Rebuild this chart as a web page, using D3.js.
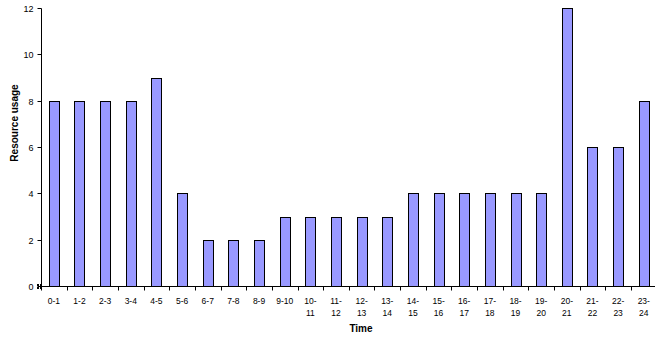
<!DOCTYPE html>
<html>
<head>
<meta charset="utf-8">
<script src="https://cdn.jsdelivr.net/npm/d3@7"></script>
<style>
  html, body { margin: 0; padding: 0; background: #fff; }
  svg { display: block; }
  text { font-family: "Liberation Sans", Arial, sans-serif; fill: #000; }
</style>
</head>
<body>
<svg id="chart" width="655" height="337"></svg>
<script>
// Hourly time slots and resource usage per slot
const timeSlots = ["0-1","1-2","2-3","3-4","4-5","5-6","6-7","7-8","8-9","9-10",
  "10-11","11-12","12-13","13-14","14-15","15-16","16-17","17-18","18-19","19-20",
  "20-21","21-22","22-23","23-24"];
const usage = [8,8,8,8,9,4,2,2,2,3,3,3,3,3,4,4,4,4,4,4,12,6,6,8];
const yTicks = [0,2,4,6,8,10,12];

const svg = d3.select("#chart");
const x0 = 41, x1 = 656.6, yBottom = 286, yTop = 8;

const x = d3.scaleBand().domain(timeSlots).range([x0, x1]).paddingInner(0).paddingOuter(0);
const y = d3.scaleLinear().domain([0, 12]).range([yBottom, yTop]);

const barW = 10;

// Bars
svg.append("g").selectAll("rect").data(usage).join("rect")
  .attr("x", (d, i) => Math.round(x(timeSlots[i]) + x.bandwidth() / 2 - barW / 2) + 0.5)
  .attr("y", d => Math.round(y(d)) + 0.5)
  .attr("width", barW)
  .attr("height", d => Math.round(y(0)) - Math.round(y(d)))
  .attr("fill", "#9999ff")
  .attr("stroke", "#000")
  .attr("stroke-width", 1);

// Y axis
const yAxis = svg.append("g").attr("transform", `translate(${x0 + 0.5},0.5)`);
yAxis.append("line").attr("x1", 0).attr("x2", 0).attr("y1", y(12)).attr("y2", y(0)).attr("stroke", "#000");
yAxis.selectAll("line.tick").data(yTicks).join("line").attr("class", "tick")
  .attr("x1", -4).attr("x2", 0)
  .attr("y1", d => Math.round(y(d))).attr("y2", d => Math.round(y(d)))
  .attr("stroke", "#000");
yAxis.selectAll("text").data(yTicks).join("text")
  .attr("x", -8).attr("y", d => Math.round(y(d)) + 3)
  .attr("text-anchor", "end").attr("font-size", 9)
  .text(d => d);

// Small origin marker
[[-4, -2], [-1, -2], [-4, 1], [-1, 1]].forEach(([dx, dy]) => {
  svg.append("rect").attr("x", x0 + dx).attr("y", yBottom + dy).attr("width", 2).attr("height", 2).attr("fill", "#000");
});

// X axis
const xAxis = svg.append("g").attr("transform", `translate(0,${yBottom + 0.5})`);
xAxis.append("line").attr("x1", x0).attr("x2", x1).attr("y1", 0).attr("y2", 0).attr("stroke", "#000");
const boundaries = d3.range(timeSlots.length + 1).map(i => x0 + i * x.bandwidth());
xAxis.selectAll("line.tick").data(boundaries).join("line").attr("class", "tick")
  .attr("x1", d => Math.round(d) + 0.5).attr("x2", d => Math.round(d) + 0.5)
  .attr("y1", 0).attr("y2", 4).attr("stroke", "#000");

// Category labels, wrapped after the dash for two-digit slots
xAxis.selectAll("text.cat").data(timeSlots).join("text").attr("class", "cat")
  .attr("text-anchor", "middle").attr("font-size", 8.5)
  .attr("transform", d => `translate(${x(d) + x.bandwidth() / 2},0)`)
  .each(function(d) {
    const t = d3.select(this);
    const parts = d.split("-");
    if (parts[0].length > 1) {
      t.append("tspan").attr("x", 0).attr("y", 17).text(parts[0] + "-");
      t.append("tspan").attr("x", 0).attr("y", 29).text(parts[1]);
    } else {
      t.append("tspan").attr("x", 0).attr("y", 17).text(d);
    }
  });

// Axis titles
svg.append("text").attr("x", 361).attr("y", 332)
  .attr("text-anchor", "middle").attr("font-size", 10).attr("font-weight", "bold")
  .text("Time");
svg.append("text").attr("transform", "translate(18,123) rotate(-90)")
  .attr("text-anchor", "middle").attr("font-size", 10).attr("font-weight", "bold")
  .text("Resource usage");
</script>
</body>
</html>
